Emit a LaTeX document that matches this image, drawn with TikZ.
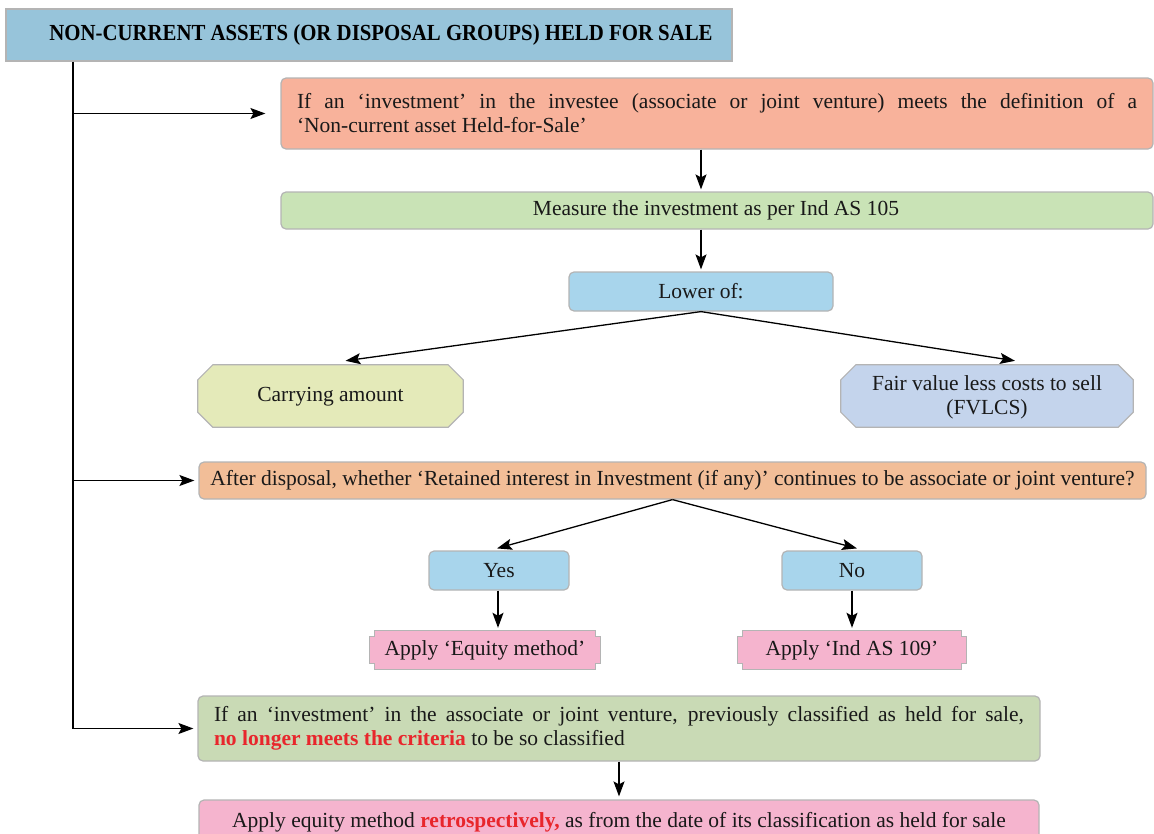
\documentclass[tikz,border=0pt]{standalone}
\usepackage{fontspec}
\setmainfont{Liberation Serif}
\newfontfamily\headfont{Liberation Serif}[FakeStretch=0.905]
\usetikzlibrary{arrows.meta,positioning}
\definecolor{edge}{HTML}{B4B4B4}
\definecolor{hdblue}{HTML}{97C4DA}
\definecolor{salmon}{HTML}{F8B29B}
\definecolor{mgreen}{HTML}{C9E3B6}
\definecolor{lblue}{HTML}{A8D5EC}
\definecolor{lime}{HTML}{E4EAB9}
\definecolor{lav}{HTML}{C4D4EC}
\definecolor{tan}{HTML}{F2BE98}
\definecolor{pink}{HTML}{F5B4CE}
\definecolor{sage}{HTML}{C9DAB5}
\definecolor{hilite}{HTML}{E8262C}
\tikzset{
  box/.style={draw=edge, line width=1.2pt, rounded corners=5pt, inner sep=0pt,
    text=black!90, font=\fontsize{21.5}{24}\selectfont},
  para/.style={box, inner xsep=16pt, inner ysep=0pt, align=justify},
  shaped/.style={inner sep=0pt, text=black!90, font=\fontsize{21.5}{24}\selectfont, align=center},
  arr/.style={-{Stealth[length=15pt,width=11pt,inset=3pt]}, line width=1.3pt},
}
\begin{document}
\begin{tikzpicture}[x=1pt,y=-1pt]
\useasboundingbox (0,0) rectangle (1154,833);
% header and left spine
\node[draw=edge, fill=hdblue, line width=1.2pt, minimum width=726pt, minimum height=52pt, inner sep=0pt,
  font=\headfont\fontsize{23}{26}\selectfont\bfseries] (hdr) at (369,35)
  {\hspace{24pt}NON-CURRENT ASSETS (OR DISPOSAL GROUPS) HELD FOR SALE};
\coordinate (s1) at (73,113.5);
\coordinate (s2) at (73,480.5);
\coordinate (s3) at (73,728.5);
\draw[line width=1.3pt] (hdr.south -| s1) -- (s3);
% held-for-sale branch
\node[para, fill=salmon, text width=840pt, minimum height=71pt] (hfs) at (717,113.5)
  {If an `investment' in the investee (associate or joint venture) meets the definition of a\linebreak `Non-current asset Held-for-Sale'};
\node[box, fill=mgreen, minimum width=872pt, minimum height=37pt] (meas) at (717,210.5)
  {\hspace{-2pt}Measure the investment as per Ind AS 105};
\node[box, fill=lblue, minimum width=264pt, minimum height=39pt] (lower) at (701,291.5) {Lower of:};
\node[shaped, minimum width=265pt, minimum height=62pt] (carry) at (330.5,396) {};
\node[shaped, minimum width=292pt, minimum height=62pt] (fv) at (987,396) {};
\foreach \n/\c in {carry/lime, fv/lav}
  \draw[draw=edge, fill=\c, line width=1.2pt]
    ([xshift=15pt]\n.north west) -- ([xshift=-15pt]\n.north east) -- ([yshift=-15pt]\n.north east)
    -- ([yshift=15pt]\n.south east) -- ([xshift=-15pt]\n.south east) -- ([xshift=15pt]\n.south west)
    -- ([yshift=15pt]\n.south west) -- ([yshift=-15pt]\n.north west) -- cycle;
\node[shaped] at ([yshift=-1pt]carry) {Carrying amount};
\node[shaped] at ([yshift=-1pt]fv) {Fair value less costs to sell\\(FVLCS)};
\draw[arr] (s1) -- (hfs.west) [shorten >=15pt];
\draw[arr] (hfs.south -| lower) -- (meas.north -| lower) [shorten >=2pt];
\draw[arr] (meas.south -| lower) -- (lower.north) [shorten >=2pt];
\draw[arr] (lower.south) -- ([xshift=15pt,yshift=4pt]carry.north);
\draw[arr] (lower.south) -- ([xshift=28pt,yshift=4pt]fv.north);
% retained interest branch
\node[box, fill=tan, minimum width=947pt, minimum height=37pt] (after) at (672.5,480.5)
  {After disposal, whether `Retained interest in Investment (if any)' continues to be associate or joint venture?};
\node[box, fill=lblue, minimum width=140pt, minimum height=39pt] (yes) at (499,570.5) {Yes};
\node[box, fill=lblue, minimum width=140pt, minimum height=39pt] (no) at (852,570.5) {No};
\node[shaped, minimum width=230pt, minimum height=38pt] (eq) at (485,650) {};
\node[shaped, minimum width=228pt, minimum height=38pt] (ias) at (852,650) {};
\foreach \n in {eq, ias}
  \draw[draw=edge, fill=pink, line width=1.2pt]
    ([xshift=5pt]\n.north west) -- ([xshift=-5pt]\n.north east) -- ([xshift=-5pt,yshift=-6pt]\n.north east)
    -- ([yshift=-6pt]\n.north east) -- ([yshift=6pt]\n.south east) -- ([xshift=-5pt,yshift=6pt]\n.south east)
    -- ([xshift=-5pt]\n.south east) -- ([xshift=5pt]\n.south west) -- ([xshift=5pt,yshift=6pt]\n.south west)
    -- ([yshift=6pt]\n.south west) -- ([yshift=-6pt]\n.north west) -- ([xshift=5pt,yshift=-6pt]\n.north west) -- cycle;
\node[shaped] at (eq) {Apply `Equity method'};
\node[shaped] at (ias) {Apply `Ind AS 109'};
\draw[arr] (s2) -- (after.west) [shorten >=4pt];
\draw[arr] (after.south) -- ([xshift=-2pt,yshift=2pt]yes.north);
\draw[arr] (after.south) -- ([xshift=5pt,yshift=2pt]no.north);
\draw[arr] (yes.south -| 498,0) -- (eq.north -| 498,0) [shorten >=3pt];
\draw[arr] (no.south) -- (ias.north) [shorten >=3pt];
% no longer held for sale
\node[para, fill=sage, text width=810pt, minimum height=65pt] (nolong) at (619,728.5)
  {If an `investment' in the associate or joint venture, previously classified as held for sale,\linebreak \textcolor{hilite}{\bfseries no longer meets the criteria} to be so classified};
\node[box, fill=pink, minimum width=840pt, minimum height=44pt] (retro) at (619,822)
  {Apply equity method \textcolor{hilite}{\bfseries retrospectively,} as from the date of its classification as held for sale};
\draw[arr] (s3) -- (nolong.west) [shorten >=4pt];
\draw[arr] (nolong.south) -- (retro.north) [shorten >=3pt];
\end{tikzpicture}
\end{document}
